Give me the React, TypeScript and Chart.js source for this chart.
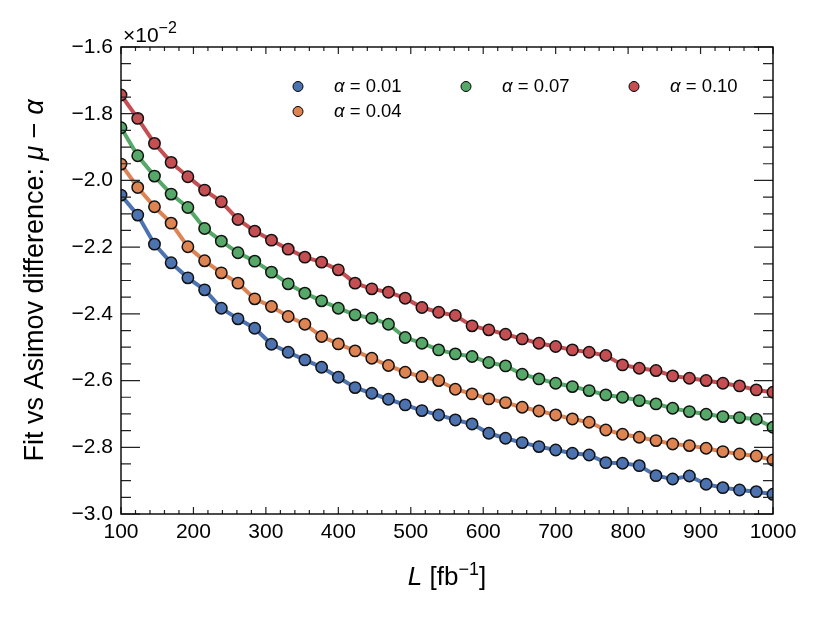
import React, { useEffect, useRef } from "react";
import Chart from "chart.js/auto";

// integrated luminosity L [fb^-1], 40 scan points
const luminosity = [
  100, 123.1, 146.2, 169.2, 192.3, 215.4, 238.5, 261.5, 284.6, 307.7,
  330.8, 353.8, 376.9, 400.0, 423.1, 446.2, 469.2, 492.3, 515.4, 538.5,
  561.5, 584.6, 607.7, 630.8, 653.8, 676.9, 700.0, 723.1, 746.2, 769.2,
  792.3, 815.4, 838.5, 861.5, 884.6, 907.7, 930.8, 953.8, 976.9, 1000,
];

// mu - alpha, in units of 1e-2
const alpha001 = [
  -2.044, -2.104, -2.191, -2.247, -2.292, -2.328, -2.383, -2.415, -2.443, -2.491,
  -2.515, -2.538, -2.56, -2.59, -2.621, -2.638, -2.656, -2.673, -2.69, -2.703,
  -2.718, -2.73, -2.758, -2.773, -2.786, -2.798, -2.808, -2.818, -2.823, -2.846,
  -2.848, -2.855, -2.885, -2.895, -2.886, -2.911, -2.921, -2.928, -2.933, -2.941,
];
const alpha004 = [
  -1.951, -2.021, -2.079, -2.128, -2.199, -2.241, -2.277, -2.308, -2.355, -2.378,
  -2.408, -2.431, -2.468, -2.49, -2.511, -2.533, -2.555, -2.575, -2.588, -2.6,
  -2.626, -2.64, -2.655, -2.666, -2.68, -2.691, -2.703, -2.715, -2.725, -2.748,
  -2.761, -2.77, -2.78, -2.79, -2.795, -2.803, -2.813, -2.82, -2.826, -2.838,
];
const alpha007 = [
  -1.842, -1.926, -1.987, -2.041, -2.081, -2.144, -2.182, -2.217, -2.242, -2.275,
  -2.31, -2.338, -2.361, -2.383, -2.403, -2.413, -2.431, -2.471, -2.488, -2.508,
  -2.52, -2.528, -2.546, -2.556, -2.581, -2.595, -2.608, -2.618, -2.63, -2.643,
  -2.65, -2.66, -2.67, -2.683, -2.693, -2.701, -2.708, -2.711, -2.716, -2.74,
];
const alpha010 = [
  -1.744, -1.814, -1.889, -1.946, -1.989, -2.029, -2.064, -2.117, -2.152, -2.179,
  -2.206, -2.23, -2.245, -2.268, -2.308, -2.325, -2.335, -2.353, -2.381, -2.395,
  -2.405, -2.436, -2.448, -2.461, -2.475, -2.488, -2.498, -2.508, -2.515, -2.525,
  -2.553, -2.563, -2.57, -2.586, -2.593, -2.6, -2.608, -2.616, -2.628, -2.635,
];

const alphaLabels = ["0.01", "0.04", "0.07", "0.10"];
const seriesColors = ["#4c72b0", "#dd8452", "#55a868", "#c44e52"];
const seriesValues = [alpha001, alpha004, alpha007, alpha010];

const FONT = '"Liberation Sans", Arial, Helvetica, sans-serif';

type Run = { t: string; size: number; italic?: boolean; dy?: number };

function drawRuns(ctx: CanvasRenderingContext2D, runs: Run[], x: number, y: number, center: boolean) {
  const fontOf = (r: Run) => `${r.italic ? "italic " : ""}${r.size}px ${FONT}`;
  let total = 0;
  for (const r of runs) {
    ctx.font = fontOf(r);
    total += ctx.measureText(r.t).width;
  }
  let cx = center ? x - total / 2 : x;
  for (const r of runs) {
    ctx.font = fontOf(r);
    ctx.fillText(r.t, cx, y + (r.dy || 0));
    cx += ctx.measureText(r.t).width;
  }
}

const framePlugin = {
  id: "frame",
  afterDatasetsDraw(chart: any) {
    const { ctx, chartArea: a, scales } = chart;
    const xs = scales.x;
    const ys = scales.y;
    ctx.save();
    ctx.strokeStyle = "#222";
    ctx.lineWidth = 1.2;
    ctx.beginPath();
    // x ticks: major 100, minor 20, pointing inward on bottom and top
    for (let i = 0; i <= 45; i++) {
      const px = xs.getPixelForValue(100 + i * 20);
      const len = i % 5 === 0 ? 7 : 4;
      ctx.moveTo(px, a.bottom);
      ctx.lineTo(px, a.bottom - len);
      ctx.moveTo(px, a.top);
      ctx.lineTo(px, a.top + len);
    }
    // y ticks: major 0.2, minor 0.05, inward on left and right
    for (let i = 0; i <= 28; i++) {
      const py = ys.getPixelForValue(-3.0 + i * 0.05);
      const len = i % 4 === 0 ? 19 : 10;
      ctx.moveTo(a.left, py);
      ctx.lineTo(a.left + len, py);
      ctx.moveTo(a.right, py);
      ctx.lineTo(a.right - len, py);
    }
    ctx.stroke();
    ctx.strokeStyle = "#000";
    ctx.lineWidth = 1.4;
    ctx.strokeRect(a.left, a.top, a.right - a.left, a.bottom - a.top);

    ctx.fillStyle = "#000";
    ctx.textAlign = "left";
    ctx.textBaseline = "alphabetic";

    // offset text
    drawRuns(ctx, [
      { t: "\u00d710", size: 21 },
      { t: "\u22122", size: 16, dy: -9 },
    ], a.left + 2, a.top - 5, false);

    // x axis label
    drawRuns(ctx, [
      { t: "L", size: 26, italic: true },
      { t: " [fb", size: 26 },
      { t: "\u22121", size: 18, dy: -10 },
      { t: "]", size: 26 },
    ], (a.left + a.right) / 2, 585, true);

    // y axis label
    ctx.save();
    ctx.translate(43, (a.top + a.bottom) / 2);
    ctx.rotate(-Math.PI / 2);
    drawRuns(ctx, [
      { t: "Fit vs Asimov difference: ", size: 27 },
      { t: "\u03bc", size: 27, italic: true },
      { t: " \u2212 ", size: 27 },
      { t: "\u03b1", size: 27, italic: true },
    ], 0, 0, true);
    ctx.restore();

    // legend: 3 columns, filled column-wise
    const slots = [
      { mx: 298, my: 86.5, tx: 334, ty: 92 },
      { mx: 298, my: 111.5, tx: 334, ty: 117 },
      { mx: 466, my: 86.5, tx: 502, ty: 92 },
      { mx: 634, my: 86.5, tx: 670, ty: 92 },
    ];
    slots.forEach((s, i) => {
      ctx.beginPath();
      ctx.arc(s.mx, s.my, 5, 0, Math.PI * 2);
      ctx.fillStyle = seriesColors[i];
      ctx.fill();
      ctx.lineWidth = 1;
      ctx.strokeStyle = "#000";
      ctx.stroke();
      ctx.fillStyle = "#000";
      drawRuns(ctx, [
        { t: "\u03b1", size: 18.5, italic: true },
        { t: " = ", size: 18.5 },
        { t: alphaLabels[i], size: 18.5 },
      ], s.tx, s.ty, false);
    });
    ctx.restore();
  },
};

const App: React.FC = () => {
  const canvasRef = useRef<HTMLCanvasElement>(null);

  useEffect(() => {
    if (!canvasRef.current) return;
    const chart = new Chart(canvasRef.current, {
      type: "line",
      data: {
        datasets: seriesValues.map((vals, i) => ({
          label: `alpha = ${alphaLabels[i]}`,
          data: vals.map((v, j) => ({ x: luminosity[j], y: v })),
          borderColor: seriesColors[i],
          backgroundColor: seriesColors[i],
          borderWidth: 4,
          pointRadius: 5.7,
          pointBorderWidth: 1.5,
          pointBorderColor: "#111",
          pointBackgroundColor: seriesColors[i],
          tension: 0,
          clip: 0,
        })),
      },
      options: {
        animation: false,
        responsive: false,
        layout: { padding: { top: 47, right: 49, left: 0, bottom: 0 }, autoPadding: false },
        plugins: {
          legend: { display: false },
          tooltip: { enabled: false },
        },
        scales: {
          x: {
            type: "linear",
            min: 100,
            max: 1000,
            grid: { display: false, drawTicks: false },
            border: { display: false },
            ticks: {
              stepSize: 100,
              padding: 6,
              color: "#000",
              font: { family: FONT, size: 21 },
              callback: (v: any) => String(Math.round(Number(v))),
            },
            afterFit: (s: any) => {
              s.height = 103;
            },
          },
          y: {
            type: "linear",
            min: -3.0,
            max: -1.6,
            grid: { display: false, drawTicks: false },
            border: { display: false },
            ticks: {
              stepSize: 0.2,
              padding: 8,
              color: "#000",
              font: { family: FONT, size: 21 },
              callback: (v: any) => (Math.round(Number(v) * 10) / 10).toFixed(1).replace("-", "\u2212"),
            },
            afterFit: (s: any) => {
              s.width = 121;
            },
          },
        },
      },
      plugins: [framePlugin],
    });
    return () => chart.destroy();
  }, []);

  return (
    <div style={{ position: "fixed", left: 0, top: 0, width: 822, height: 617, background: "#fff" }}>
      <canvas ref={canvasRef} width={822} height={617} style={{ width: 822, height: 617 }} />
    </div>
  );
};

export default App;
